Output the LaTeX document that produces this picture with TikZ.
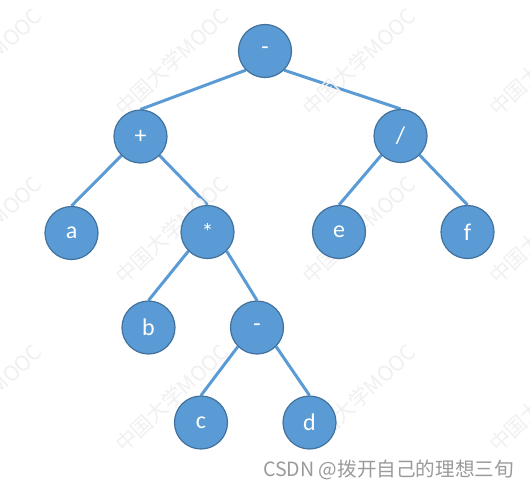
\documentclass[tikz,border=0pt]{standalone}
\usepackage{fontspec}
\setmainfont{Carlito}
\newfontfamily\cjkfont{Noto Sans CJK SC}
\usetikzlibrary{backgrounds}
\definecolor{nodefill}{HTML}{5B9BD5}
\definecolor{nodeline}{HTML}{41719C}
\definecolor{wmgray}{HTML}{F0F0F0}
\definecolor{csdngray}{HTML}{9A9A9A}
\tikzset{
  tnode/.style={circle, fill=nodefill, draw=nodeline, line width=1.2pt,
    minimum size=53pt, inner sep=0pt, text=white,
    font=\fontsize{24}{24}\selectfont},
  tedge/.style={draw=nodefill, line width=3pt},
  wmark/.style={text=wmgray, rotate=43, font=\cjkfont\fontsize{21}{21}\selectfont, inner sep=0pt}
}
\begin{document}
\begin{tikzpicture}[x=1pt,y=-1pt]
\useasboundingbox (0,0) rectangle (530,495);
\begin{scope}
\clip (0,0) rectangle (530,495);
\foreach \i/\xx in {0/-15,1/172,2/359,3/546}{
  \foreach \j/\yy in {0/62,1/230,2/398}{
    \node[wmark] (wm\i\j) at (\xx,\yy) {中国大学MOOC};
  }
}
\end{scope}
\node[tnode] (root) at (265,51) {-};
\node[tnode] (plus) at (140.5,136.5) {+};
\node[tnode] (div) at (400.5,136) {/};
\node[tnode] (a) at (71.5,233) {a};
\node[tnode] (mul) at (207.5,232) {*};
\node[tnode] (e) at (339,232) {e};
\node[tnode] (f) at (467.5,232) {f};
\node[tnode] (b) at (148.5,327.5) {b};
\node[tnode] (minus) at (257,327.5) {-};
\node[tnode] (c) at (201,422.5) {c};
\node[tnode] (d) at (309.5,422.5) {d};
\begin{scope}[on background layer]
\draw[tedge] (root.-135) -- (plus.north);
\draw[tedge] (root.-45) -- (div.north);
\draw[tedge] (plus.-135) -- (a.north);
\draw[tedge] (plus.-45) -- (mul.north);
\draw[tedge] (div.-135) -- (e.north);
\draw[tedge] (div.-45) -- (f.north);
\draw[tedge] (mul.-135) -- (b.north);
\draw[tedge] (mul.-45) -- (minus.north);
\draw[tedge] (minus.-135) -- (c.north);
\draw[tedge] (minus.-45) -- (d.north);
\end{scope}
\node[anchor=east, text=csdngray, font=\cjkfont\fontsize{19.6}{19.6}\selectfont, inner sep=0pt] (csdn) at (514,470) {CSDN @拨开自己的理想三旬};
\end{tikzpicture}
\end{document}
